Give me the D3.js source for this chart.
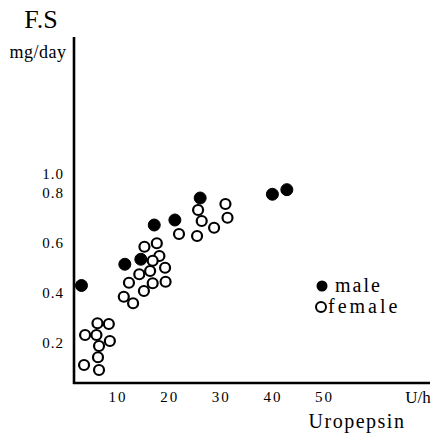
<!DOCTYPE html>
<html>
<head>
<meta charset="utf-8">
<script src="https://cdn.jsdelivr.net/npm/d3@7"></script>
<style>
  html, body { margin: 0; padding: 0; background: #fff; }
  svg { display: block; }
  text { font-family: "Liberation Serif", "DejaVu Serif", serif; fill: #000; }
</style>
</head>
<body>
<div id="chart"></div>
<script>
// ---- data ----
const maleUropepsin = [3.0, 11.4, 14.5, 17.1, 21.1, 26.0, 40.0, 42.8];
const maleFS        = [0.43, 0.515, 0.535, 0.672, 0.692, 0.78, 0.795, 0.835];

const femaleUropepsin = [15.2, 17.6, 18.1, 16.8, 19.2, 16.3, 14.2, 12.2, 16.8, 19.3, 15.1, 11.2, 13.0,
                         25.6, 26.3, 21.9, 25.4, 28.7, 30.9, 31.3,
                         8.3, 6.1, 3.7, 5.9, 8.5, 6.4, 6.2, 3.5, 6.4];
const femaleFS        = [0.585, 0.599, 0.548, 0.529, 0.501, 0.488, 0.475, 0.441, 0.439, 0.445, 0.408, 0.385, 0.359,
                         0.732, 0.688, 0.636, 0.628, 0.661, 0.756, 0.701,
                         0.276, 0.279, 0.232, 0.232, 0.208, 0.188, 0.143, 0.112, 0.092];

const xTicks = [10, 20, 30, 40, 50];
const yTicks = [0.2, 0.4, 0.6, 0.8, 1.0];
const legendLabels = ["male", "female"];

// ---- layout ----
const W = 439, H = 433;
const axisX = 74, axisY = 383, axisTop = 37, axisRight = 430;

const svg = d3.select("#chart").append("svg")
  .attr("width", W).attr("height", H);

const x = d3.scaleLinear().domain([0, 50]).range([66, 324]);
// hand-drawn axis: spacing of the top tick is compressed
const y = d3.scaleLinear().domain([0, 0.8, 1.0]).range([393, 193, 174]);

// axis lines
svg.append("line").attr("x1", axisX).attr("x2", axisX).attr("y1", axisTop).attr("y2", axisY + 1)
  .attr("stroke", "#000").attr("stroke-width", 2.6);
svg.append("line").attr("x1", axisX - 1).attr("x2", axisRight).attr("y1", axisY).attr("y2", axisY)
  .attr("stroke", "#000").attr("stroke-width", 2.6);

// y axis ticks (labels only)
const yAxis = d3.axisLeft(y).tickValues(yTicks).tickSize(0).tickPadding(0)
  .tickFormat(d3.format(".1f"));
const gy = svg.append("g").attr("transform", `translate(${axisX - 10},0)`).call(yAxis);
gy.select(".domain").remove();
gy.selectAll("text").attr("font-size", 15).attr("font-family", "Liberation Serif, serif")
  .attr("letter-spacing", 1);

// x axis ticks (labels only)
const xAxis = d3.axisBottom(x).tickValues(xTicks).tickSize(0).tickPadding(0);
const gx = svg.append("g").attr("transform", `translate(0,${axisY + 8})`).call(xAxis);
gx.select(".domain").remove();
gx.selectAll("text").attr("font-size", 15).attr("font-family", "Liberation Serif, serif")
  .attr("letter-spacing", 2);

// axis titles
svg.append("text").attr("x", 41).attr("y", 28).attr("text-anchor", "middle")
  .attr("font-size", 26).text("F.S");
svg.append("text").attr("x", 38).attr("y", 58).attr("text-anchor", "middle")
  .attr("font-size", 18).attr("letter-spacing", 0.5).text("mg/day");
svg.append("text").attr("x", 418).attr("y", 403).attr("text-anchor", "middle")
  .attr("font-size", 17).text("U/h");
svg.append("text").attr("x", 357).attr("y", 428).attr("text-anchor", "middle")
  .attr("font-size", 20).attr("letter-spacing", 1.5).text("Uropepsin");

// points
const r = 6;
const female = d3.zip(femaleUropepsin, femaleFS);
const male = d3.zip(maleUropepsin, maleFS);

svg.append("g").selectAll("circle").data(female).join("circle")
  .attr("cx", d => x(d[0])).attr("cy", d => y(d[1])).attr("r", r - 1)
  .attr("fill", "#fff").attr("stroke", "#000").attr("stroke-width", 2.2);

svg.append("g").selectAll("circle").data(male).join("circle")
  .attr("cx", d => x(d[0])).attr("cy", d => y(d[1])).attr("r", r)
  .attr("fill", "#000").attr("stroke", "#000").attr("stroke-width", 1);

// legend
const lg = svg.append("g");
lg.append("circle").attr("cx", 322).attr("cy", 286).attr("r", 5.5).attr("fill", "#000");
lg.append("text").attr("x", 335).attr("y", 292).attr("font-size", 20).attr("letter-spacing", 2)
  .text(legendLabels[0]);
lg.append("circle").attr("cx", 321).attr("cy", 307).attr("r", 5).attr("fill", "#fff")
  .attr("stroke", "#000").attr("stroke-width", 2);
lg.append("text").attr("x", 328).attr("y", 313).attr("font-size", 20).attr("letter-spacing", 3)
  .text(legendLabels[1]);
</script>
</body>
</html>
